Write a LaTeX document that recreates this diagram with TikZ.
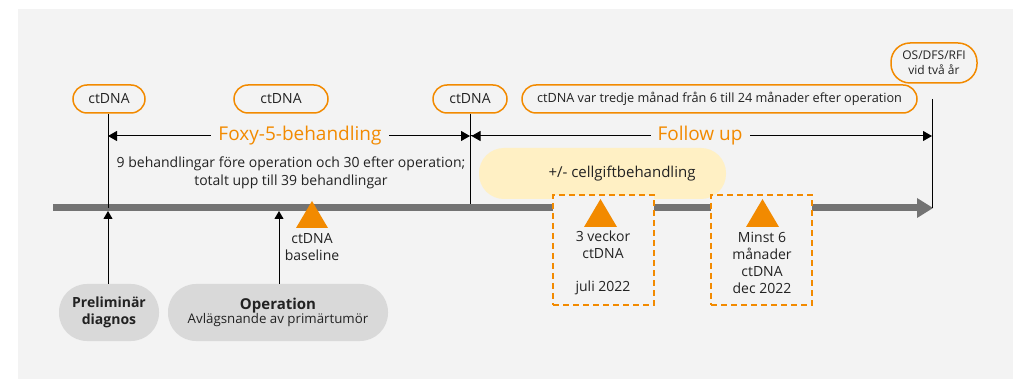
\documentclass[tikz,border=0pt]{standalone}
\usepackage{fontspec}
\setmainfont{Open Sans}
\usetikzlibrary{arrows.meta}
\definecolor{bg}{HTML}{F3F3F3}
\definecolor{org}{HTML}{F28A00}
\definecolor{barc}{HTML}{737373}
\definecolor{pillg}{HTML}{D9D9D9}
\definecolor{yel}{HTML}{FFF0C4}
\definecolor{txt}{HTML}{222222}
\begin{document}
\begin{tikzpicture}[x=1pt,y=-1pt,
  opill/.style={draw=org, line width=1.5pt, fill=bg, rounded corners=14pt, minimum height=28pt, inner sep=0pt, font=\fontsize{14}{16}\selectfont, text=txt},
  gpill/.style={fill=pillg, rounded corners=28pt, minimum height=57pt, inner sep=0pt, text=txt, align=center},
  dbox/.style={draw=org, line width=1.5pt, dash pattern=on 6pt off 4pt, fill=bg, minimum width=101pt, minimum height=110pt, inner sep=0pt},
  lbl/.style={text=txt, align=center, inner sep=0pt, font=\fontsize{14}{16.8}\selectfont},
  big/.style={text=org, fill=bg, inner xsep=7pt, inner ysep=0pt, font=\fontsize{19}{23}\selectfont},
  harr/.style={draw=black, line width=1pt, {Triangle[length=9pt,width=10pt]}-{Triangle[length=9pt,width=10pt]}},
  rarr/.style={draw=black, line width=1pt, -{Triangle[length=9pt,width=10pt]}},
  uarr/.style={draw=black, line width=1pt, -{Triangle[length=8pt,width=9pt]}},
  vline/.style={draw=black, line width=1pt},
  tri/.style={fill=org}
]
\useasboundingbox (0,0) rectangle (1020,379);
\fill[bg] (18,9) rectangle (1013,379);

% yellow chemo band
\node[fill=yel, rounded corners=25pt, minimum width=247pt, minimum height=51pt, inner sep=0pt] (chemo) at (602.5,173.5) {};
\node[lbl, font=\fontsize{15}{18}\selectfont] (chemot) at (622,174) {+/- cellgiftbehandling};

% timeline bar
\coordinate (b0) at (53,208);
\coordinate (b1) at (918,208);
\draw[barc, line width=7pt] (b0) -- (b1);
\fill[barc] (917,198) -- (933,208) -- (917,218) -- cycle;

% dashed boxes
\node[dbox] (box1) at (603.5,250) {};
\node[dbox] (box2) at (761.5,250) {};

% triangles
\fill[tri] (296,228) -- (312,201) -- (328,228) -- cycle;
\fill[tri] (584,227) -- (600.5,199) -- (617,227) -- cycle;
\fill[tri] (746,227) -- (762.5,199) -- (779,227) -- cycle;

% top pills
\node[opill, minimum width=72pt] (p1) at (109,99) {ctDNA};
\node[opill, minimum width=94pt] (p2) at (281,99) {ctDNA};
\node[opill, minimum width=74pt] (p3) at (470,99) {ctDNA};
\node[opill, minimum width=395pt, font=\fontsize{12.7}{15}\selectfont] (p4) at (719.5,99) {ctDNA var tredje månad från 6 till 24 månader efter operation};
\node[opill, minimum width=86pt, minimum height=40pt, rounded corners=19pt, align=center, font=\fontsize{12}{15}\selectfont] (p5) at (934,63) {OS/DFS/RFI\\vid två år};

% vertical lines
\coordinate (v1b) at (108,208);
\coordinate (v2b) at (470,204);
\coordinate (v3t) at (932,99);
\coordinate (v3b) at (932,208);
\draw[vline] (p1.south -| v1b) -- (v1b);
\draw[vline] (p3.south) -- (v2b);
\draw[vline] (v3t) -- (v3b);

% horizontal arrows
\coordinate (fa) at (108,136);
\coordinate (fb) at (470,136);
\coordinate (fc) at (932,136);
\draw[harr] (fa) -- (fb);
\draw[rarr] ([xshift=1pt]fb) -- (fc);
\draw[draw=black, line width=1pt, {Triangle[length=9pt,width=10pt]}-] ([xshift=1.5pt]fb) -- ++(20,0);
\node[big] (foxy) at (300,136) {Foxy-5-behandling};
\node[big] (follow) at (700,136) {Follow up};

\node[lbl, font=\fontsize{14}{18}\selectfont] (sub) at (291,173) {9 behandlingar före operation och 30 efter operation;\\totalt upp till 39 behandlingar};

% bottom pills
\node[gpill, minimum width=100pt, font=\bfseries\fontsize{14}{17}\selectfont] (prel) at (109,312.5) {Preliminär\\diagnos};
\node[gpill, minimum width=220pt] (oper) at (278,312.5) {{\bfseries\fontsize{15}{20}\selectfont Operation}\\{\fontsize{13.3}{17}\selectfont Avlägsnande av primärtumör}};

\coordinate (u1) at (108,211);
\coordinate (u2) at (279,211);
\draw[uarr] (prel.north -| u1) -- (u1);
\draw[uarr] (oper.north -| u2) -- (u2);

% labels
\node[lbl] (base) at (312,247) {ctDNA\\baseline};
\node[lbl] (t1) at (603,263) {3 veckor\\ctDNA\\[16.8pt]juli 2022};
\node[lbl] (t2) at (762,263) {Minst 6\\månader\\ctDNA\\dec 2022};
\end{tikzpicture}
\end{document}
